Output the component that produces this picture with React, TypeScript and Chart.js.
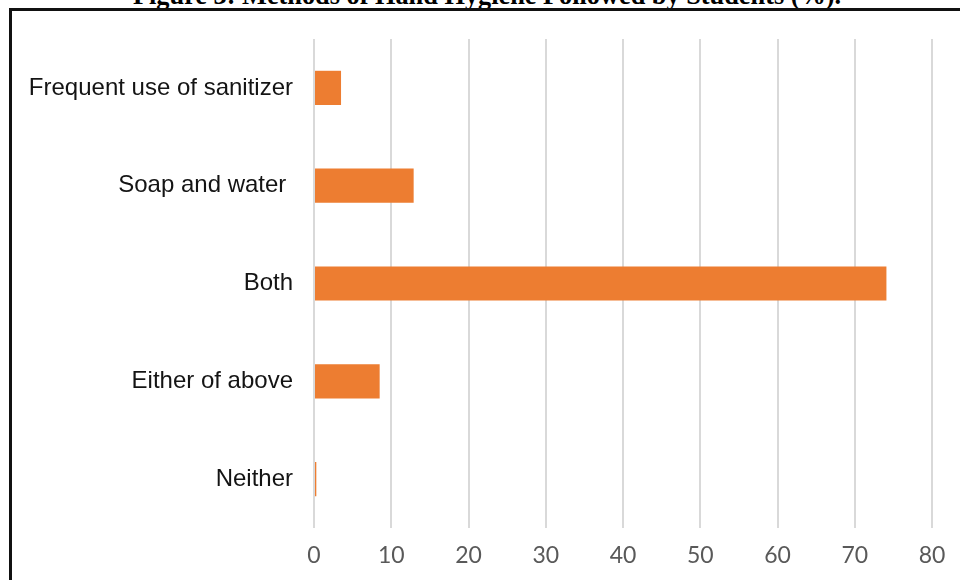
import React, { useEffect, useRef } from "react";
import { Chart, registerables } from "chart.js";

Chart.register(...registerables);

// Methods of hand hygiene followed by students, in percent
const categories = [
  "Frequent use of sanitizer",
  "Soap and water ",
  "Both",
  "Either of above",
  "Neither",
];
const percentValues = [3.5, 12.9, 74.1, 8.5, 0.3];
const axisMin = 0;
const axisMax = 80;
const axisStep = 10;

const titleText = "Figure 3: Methods of Hand Hygiene Followed by Students (%).";

export default function App() {
  const canvasRef = useRef<HTMLCanvasElement | null>(null);

  useEffect(() => {
    const canvas = canvasRef.current;
    if (!canvas) return;
    const chart = new Chart(canvas, {
      type: "bar",
      data: {
        labels: categories,
        datasets: [
          {
            data: percentValues,
            backgroundColor: "#ED7D31",
            borderWidth: 0,
            categoryPercentage: 1,
            barPercentage: 0.35,
          },
        ],
      },
      options: {
        indexAxis: "y",
        animation: false,
        responsive: false,
        maintainAspectRatio: false,
        layout: { padding: { top: 39, right: 28, bottom: 0, left: 0 } },
        plugins: {
          legend: { display: false },
          title: { display: false },
          tooltip: { enabled: false },
        },
        scales: {
          x: {
            min: axisMin,
            max: axisMax,
            grid: {
              color: "#D9D9D9",
              lineWidth: 2,
              drawTicks: false,
            },
            border: { display: false },
            ticks: {
              stepSize: axisStep,
              color: "#595959",
              padding: 14,
              font: { family: "Lato, 'Liberation Sans', sans-serif", size: 23 },
            },
            afterFit: (scale: any) => {
              scale.height = 52;
            },
          },
          y: {
            grid: { display: false, drawTicks: false },
            border: { display: false },
            ticks: {
              color: "#141414",
              padding: 21,
              font: { family: "'Liberation Sans', Arial, sans-serif", size: 24 },
            },
            afterFit: (scale: any) => {
              scale.width = 314;
            },
          },
        },
      },
    });
    return () => chart.destroy();
  }, []);

  return (
    <div
      style={{
        position: "fixed",
        left: 0,
        top: 0,
        width: 960,
        height: 580,
        overflow: "hidden",
        background: "#ffffff",
      }}
    >
      <div
        style={{
          position: "absolute",
          left: 133,
          top: -17,
          whiteSpace: "nowrap",
          fontFamily: "'Liberation Serif', 'Times New Roman', serif",
          fontWeight: "bold",
          fontSize: 26.3,
          lineHeight: "26px",
          color: "#000",
        }}
      >
        {titleText}
      </div>
      <div
        style={{
          position: "absolute",
          left: 9,
          top: 8,
          width: 1000,
          height: 620,
          borderTop: "3px solid #111",
          borderLeft: "3px solid #111",
          boxSizing: "border-box",
        }}
      />
      <canvas
        ref={canvasRef}
        width={960}
        height={580}
        style={{ position: "absolute", left: 0, top: 0, width: 960, height: 580 }}
      />
    </div>
  );
}
